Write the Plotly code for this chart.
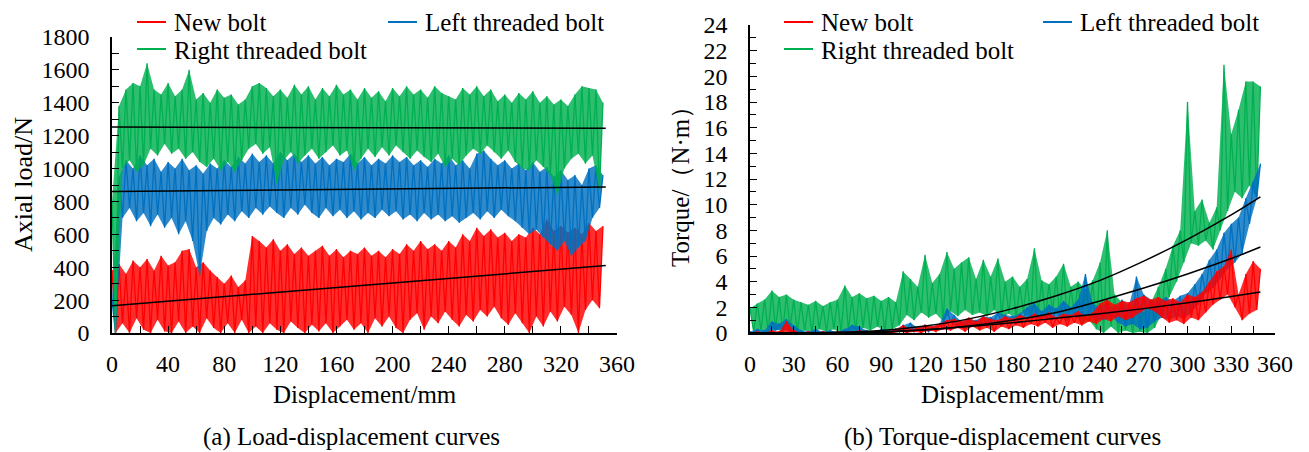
import plotly.graph_objects as go

# target picture size and the page's default body margin that offsets the figure
PAGE_W, PAGE_H = 1309, 452
BODY_MARGIN = 8
W, H = PAGE_W - BODY_MARGIN, PAGE_H - BODY_MARGIN
FONT = "Liberation Serif, Times New Roman, serif"

# ---------------- (a) Load-displacement: peaks at 0,5,...,350 mm, troughs at 2.5,...,347.5 mm
LOAD_NEW_HI = [380, 420, 360, 440, 400, 450, 380, 470, 410, 430, 500, 510, 400, 430, 380, 340, 300, 350, 280, 320,
               590, 560, 520, 570, 500, 540, 480, 520, 470, 500, 530, 470, 510, 460, 500, 480, 520, 470, 500, 460,
               510, 480, 540, 500, 560, 510, 540, 500, 560, 520, 600, 560, 640, 590, 630, 580, 610, 560, 600, 580,
               640, 600, 690, 620, 650, 610, 640, 600, 670, 620, 650]
LOAD_NEW_LO = [0, 60, 0, 90, 20, 0, 80, 10, 0, 70, 0, 40, 0, 90, 30, 0, 60, 0, 80, 0,
               40, 0, 60, 20, 0, 70, 30, 0, 50, 10, 60, 0, 40, 80, 20, 60, 0, 90, 40, 100,
               30, 0, 80, 120, 20, 100, 60, 130, 80, 40, 110, 70, 140, 100, 160, 90, 50, 120, 60, 0,
               100, 40, 130, 70, 160, 110, 0, 140, 200, 150]
LOAD_LEFT_HI = [200, 950, 1050, 1000, 1080, 1020, 1060, 980, 1040, 1000, 1060, 990, 1020, 970, 1030, 1000, 1050, 1010, 1070, 1030,
                1090, 1040, 1080, 1030, 1100, 1050, 1090, 1040, 1080, 1030, 1070, 1020, 1060, 1040, 1090, 1030, 1070, 1020, 1060, 1030,
                1080, 1040, 1070, 1020, 1050, 1010, 1060, 1030, 1080, 1020, 1050, 1000, 1090, 1110, 1060, 1020, 1050, 1000, 1030, 990,
                1040, 980, 1010, 950, 990, 930, 960, 900, 1000, 1020, 960]
LOAD_LEFT_LO = [0, 700, 760, 680, 730, 650, 720, 640, 700, 600, 680, 560, 350, 620, 700, 660, 720, 680, 740, 700,
                760, 720, 770, 730, 700, 760, 720, 780, 730, 700, 760, 710, 750, 700, 740, 690, 730, 700, 750, 710,
                740, 690, 720, 680, 730, 690, 720, 680, 710, 670, 700, 730, 690, 740, 700, 750, 710, 680, 640, 600,
                630, 580, 540, 500, 560, 470, 520, 560, 700, 760]
LOAD_RIGHT_HI = [800, 1380, 1480, 1520, 1500, 1640, 1480, 1450, 1520, 1440, 1480, 1600, 1420, 1460, 1400, 1480, 1430, 1450, 1390, 1420,
                 1500, 1520, 1490, 1440, 1480, 1430, 1510, 1450, 1500, 1420, 1490, 1440, 1510, 1450, 1480, 1420, 1490, 1430, 1470, 1410,
                 1490, 1440, 1500, 1450, 1480, 1430, 1500, 1460, 1440, 1420, 1490, 1450, 1500, 1440, 1480, 1410, 1450, 1400, 1460, 1420,
                 1470, 1400, 1440, 1390, 1420, 1380, 1450, 1500, 1490, 1480, 1400]
LOAD_RIGHT_LO = [0, 1000, 1050, 980, 1020, 1120, 1080, 1150, 1090, 1120, 1060, 1100, 1040, 1010, 1060, 990, 1040, 980, 1050, 1120,
                 1150, 1090, 1130, 910, 1050, 1100, 1030, 1080, 1120, 1060, 1100, 1140, 1080, 1110, 990, 1060, 1120, 1070, 1130, 1080,
                 1140, 1100, 1060, 1110, 1070, 1040, 1090, 1010, 1060, 1020, 1080, 1120, 1090, 1140, 1100, 1060, 1110, 1040, 1000, 990,
                 1050, 1010, 960, 840, 1000, 1060, 1090, 1030, 1080, 870]
# linear fits (a)
FIT_A_X = [0, 352]
FIT_A_NEW = [165, 410]
FIT_A_LEFT = [860, 888]
FIT_A_RIGHT = [1252, 1245]

# ---------------- (b) Torque-displacement
TQ_NEW_HI = [0.0, 0.1, 0.0, 0.2, 0.1, 0.9, 0.2, 0.0, 0.1, 0.0, 0.1, 0.0, 0.1, 0.0, 0.1, 0.2, 0.1, 0.0, 0.2, 0.1,
             0.3, 0.6, 0.3, 0.4, 0.6, 0.5, 0.7, 1.0, 1.1, 0.9, 1.2, 0.9, 1.3, 1.1, 1.0, 1.3, 1.1, 1.4, 1.2, 1.5,
             1.3, 1.6, 1.2, 1.5, 1.4, 1.7, 1.3, 1.6, 2.3, 2.6, 2.2, 2.5, 2.4, 2.7, 2.9, 2.6, 2.8, 2.5, 2.7, 2.4,
             3.0, 2.8, 3.2, 4.0, 4.8, 5.2, 6.5, 3.0, 4.6, 5.6, 5.0]
TQ_NEW_LO = [0.0, 0.0, 0.0, 0.0, 0.1, 0.0, 0.0, 0.0, 0.0, 0.0, 0.0, 0.0, 0.0, 0.0, 0.0, 0.0, 0.0, 0.0, 0.0, 0.0,
             0.1, 0.0, 0.1, 0.0, 0.2, 0.1, 0.3, 0.2, 0.4, 0.1, 0.5, 0.2, 0.4, 0.1, 0.5, 0.3, 0.6, 0.4, 0.7, 0.5,
             0.8, 0.4, 0.7, 0.5, 0.8, 0.6, 0.9, 0.7, 1.1, 0.9, 1.3, 1.0, 1.2, 1.6, 1.9, 1.7, 1.2, 0.8, 1.0, 0.7,
             1.2, 1.0, 1.6, 2.2, 2.6, 3.0, 2.0, 1.0, 1.5, 1.8]
TQ_LEFT_HI = [0.1, 0.3, 0.2, 0.9, 0.7, 1.1, 0.6, 0.2, 0.1, 0.3, 0.1, 0.2, 0.1, 0.3, 0.6, 0.5, 0.2, 0.1, 0.3, 0.2,
              0.3, 0.6, 0.8, 0.4, 0.6, 0.5, 0.7, 1.9, 1.4, 0.9, 1.1, 1.0, 1.3, 1.2, 1.6, 1.4, 1.3, 1.5, 2.0, 2.3,
              1.7, 2.2, 1.9, 2.5, 2.0, 2.6, 4.6, 2.3, 2.0, 2.4, 1.8, 2.6, 2.2, 4.4, 3.0, 2.6, 2.4, 2.8, 2.5, 2.9,
              3.1, 3.8, 4.6, 5.7, 6.5, 7.8, 8.5, 9.0, 10.5, 11.8, 13.2]
TQ_LEFT_LO = [0.0, 0.0, 0.1, 0.2, 0.3, 0.1, 0.0, 0.0, 0.0, 0.0, 0.0, 0.0, 0.0, 0.1, 0.2, 0.0, 0.0, 0.0, 0.0, 0.0,
              0.1, 0.2, 0.1, 0.2, 0.1, 0.3, 0.6, 0.8, 0.4, 0.5, 0.6, 0.7, 0.8, 0.9, 0.8, 1.0, 0.9, 1.1, 1.3, 1.1,
              1.2, 1.0, 1.3, 1.1, 1.4, 1.2, 1.5, 1.1, 1.0, 1.3, 0.8, 0.5, 0.7, 0.3, 0.4, 0.9, 1.2, 1.0, 1.3, 1.1,
              1.6, 2.2, 3.1, 3.5, 4.2, 5.0, 5.5, 6.2, 8.5, 10.5]
TQ_RIGHT_HI = [1.9, 2.3, 2.6, 3.3, 2.8, 3.0, 2.6, 2.4, 2.2, 2.5, 2.1, 2.4, 2.6, 3.7, 2.8, 3.1, 2.7, 2.9, 2.5, 2.8,
               2.4, 4.8, 4.2, 3.6, 6.1, 3.9, 4.6, 6.3, 5.0, 5.5, 5.9, 4.2, 5.7, 4.4, 5.8, 4.0, 4.4, 3.6, 4.2, 6.6,
               4.1, 3.8, 4.4, 5.4, 3.6, 4.0, 3.4, 4.1, 5.5, 8.0, 3.0, 2.4, 1.8, 2.6, 1.6, 2.4, 3.6, 5.0, 6.8, 8.0,
               18.0, 9.5, 10.4, 8.6, 9.8, 20.9, 15.5, 17.4, 19.6, 19.6, 19.2]
TQ_RIGHT_LO = [0.1, 0.2, 0.0, 0.3, 0.1, 0.4, 0.0, 0.2, 0.0, 0.3, 0.1, 0.3, 0.0, 0.2, 0.1, 0.4, 0.2, 0.5, 0.1, 0.3,
               0.6, 1.4, 1.0, 1.6, 1.2, 1.5, 0.9, 1.7, 1.3, 1.8, 1.4, 1.6, 1.3, 1.8, 1.2, 1.5, 1.1, 1.6, 1.0, 1.4,
               1.2, 1.7, 1.3, 0.9, 1.5, 0.6, 1.0, 0.3, 0.0, 0.5, 0.0, 0.2, 0.0, 0.1, 0.0, 0.4, 1.5, 2.8, 4.0, 5.5,
               7.0, 6.8, 7.2, 6.5, 8.0, 9.5, 11.0, 10.5, 11.5, 10.5]
# polynomial fits (b), read at these displacements
FIT_B_X = [0, 30, 60, 90, 120, 150, 180, 210, 240, 270, 300, 330, 350]
FIT_B_RIGHT = [0, 0, 0.05, 0.2, 0.55, 1.1, 1.9, 2.9, 4.1, 5.6, 7.3, 9.2, 10.6]
FIT_B_LEFT = [0, 0, 0, 0.05, 0.25, 0.55, 1.0, 1.6, 2.5, 3.5, 4.6, 5.8, 6.7]
FIT_B_NEW = [0, 0, 0.02, 0.1, 0.25, 0.5, 0.8, 1.15, 1.5, 1.9, 2.35, 2.85, 3.2]

COLORS = {"New bolt": "#FF0000", "Left threaded bolt": "#0070C0", "Right threaded bolt": "#00B050"}
FILLS = {"New bolt": "rgba(255,0,0,0.82)", "Left threaded bolt": "rgba(0,112,192,0.82)",
         "Right threaded bolt": "rgba(0,176,80,0.82)"}

X_PEAK = [5 * i for i in range(71)]
X_TROUGH = [5 * i + 2.5 for i in range(70)]


def zigzag(hi, lo):
    xs, ys = [], []
    for i in range(len(hi)):
        xs.append(X_PEAK[i]); ys.append(hi[i])
        if i < len(lo):
            xs.append(X_TROUGH[i]); ys.append(lo[i])
    return xs, ys


fig = go.Figure()


def add_series(name, hi, lo, xa, ya):
    fig.add_trace(go.Scatter(x=X_PEAK + X_TROUGH[::-1], y=hi + lo[::-1], fill="toself",
                             fillcolor=FILLS[name], line=dict(width=0), mode="lines",
                             hoverinfo="skip", xaxis=xa, yaxis=ya, showlegend=False))
    xs, ys = zigzag(hi, lo)
    fig.add_trace(go.Scatter(x=xs, y=ys, mode="lines", name=name,
                             line=dict(color=COLORS[name], width=1.3),
                             xaxis=xa, yaxis=ya, showlegend=False))


add_series("New bolt", LOAD_NEW_HI, LOAD_NEW_LO, "x", "y")
add_series("Left threaded bolt", LOAD_LEFT_HI, LOAD_LEFT_LO, "x", "y")
add_series("Right threaded bolt", LOAD_RIGHT_HI, LOAD_RIGHT_LO, "x", "y")
for fit in (FIT_A_NEW, FIT_A_LEFT, FIT_A_RIGHT):
    fig.add_trace(go.Scatter(x=FIT_A_X, y=fit, mode="lines", line=dict(color="black", width=1.5),
                             xaxis="x", yaxis="y", showlegend=False))

add_series("Right threaded bolt", TQ_RIGHT_HI, TQ_RIGHT_LO, "x2", "y2")
add_series("Left threaded bolt", TQ_LEFT_HI, TQ_LEFT_LO, "x2", "y2")
add_series("New bolt", TQ_NEW_HI, TQ_NEW_LO, "x2", "y2")
for fit in (FIT_B_RIGHT, FIT_B_LEFT, FIT_B_NEW):
    fig.add_trace(go.Scatter(x=FIT_B_X, y=fit, mode="lines", line=dict(color="black", width=1.5, shape="spline"),
                             xaxis="x2", yaxis="y2", showlegend=False))


def px(x):
    """page pixel x -> paper fraction"""
    return (x - BODY_MARGIN) / W


def py(y):
    """page pixel y -> paper fraction"""
    return 1 - (y - BODY_MARGIN) / H


tickfont = dict(family=FONT, size=24, color="black")
axis_common = dict(showline=True, linecolor="black", linewidth=1.5, ticks="inside", tickcolor="black",
                   ticklen=7, tickwidth=1.3, showgrid=False, zeroline=False, tickfont=tickfont,
                   fixedrange=True, automargin=False)

fig.update_layout(
    width=W, height=H, margin=dict(l=0, r=0, t=0, b=0, autoexpand=False),
    paper_bgcolor="white", plot_bgcolor="white", showlegend=False,
    xaxis=dict(domain=[px(112), px(617)], range=[0, 360], tick0=0, dtick=40, anchor="y",
               minor=dict(dtick=20, ticks="inside", ticklen=7, tickcolor="black", tickwidth=1.3),
               ticklabelstandoff=8, **axis_common),
    yaxis=dict(domain=[py(333), py(37)], range=[0, 1800], tick0=0, dtick=200, anchor="x",
               minor=dict(dtick=100, ticks="inside", ticklen=7, tickcolor="black", tickwidth=1.3),
               ticklabelstandoff=16, **axis_common),
    xaxis2=dict(domain=[px(750), px(1275)], range=[0, 360], tick0=0, dtick=30, anchor="y2",
                minor=dict(dtick=15, ticks="inside", ticklen=7, tickcolor="black", tickwidth=1.3),
                ticklabelstandoff=8, **axis_common),
    yaxis2=dict(domain=[py(333), py(25)], range=[0, 24], tick0=0, dtick=2, anchor="x2",
                minor=dict(dtick=1, ticks="inside", ticklen=6, tickcolor="black", tickwidth=1.3),
                ticklabelstandoff=16, **axis_common),
)

ann_font = dict(family=FONT, size=25, color="black")
annotations = [
    dict(text="Axial load/N", x=px(23), y=py(185), textangle=-90, font=dict(family=FONT, size=26, color="black")),
    dict(text="Torque/（N·m）", x=px(680), y=py(181), textangle=-90, font=ann_font),
    dict(text="Displacement/mm", x=px(365), y=py(394), font=ann_font),
    dict(text="Displacement/mm", x=px(1013), y=py(394), font=ann_font),
    dict(text="(a) Load-displacement curves", x=px(352), y=py(437), font=ann_font),
    dict(text="(b) Torque-displacement curves", x=px(1002), y=py(437), font=ann_font),
]
for a in annotations:
    fig.add_annotation(xref="paper", yref="paper", showarrow=False,
                       xanchor="center", yanchor="middle", **a)

LEGEND_ITEMS = [
    ("New bolt", 137, 22), ("Left threaded bolt", 388, 22), ("Right threaded bolt", 137, 49),
    ("New bolt", 784, 22), ("Left threaded bolt", 1043, 22), ("Right threaded bolt", 784, 49),
]
for name, lx, ly in LEGEND_ITEMS:
    fig.add_shape(type="line", xref="paper", yref="paper", x0=px(lx), x1=px(lx + 29), y0=py(ly), y1=py(ly),
                  line=dict(color=COLORS[name], width=2))
    fig.add_annotation(xref="paper", yref="paper", showarrow=False, font=ann_font, text=name,
                       x=px(lx + 35), y=py(ly + 1), xanchor="left", yanchor="middle")

fig.write_html("out.html")
